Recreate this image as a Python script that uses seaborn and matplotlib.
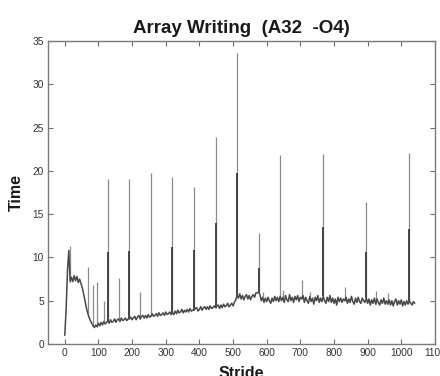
import numpy as np
import pandas as pd
import matplotlib
matplotlib.use("Agg")
import matplotlib.pyplot as plt
import seaborn as sns

# ── Data ──────────────────────────────────────────────────────
# base timing curve, one value every 4 strides, 0 .. 1040
stride = list(range(0, 1041, 4))
time = [
    1.0, 4.0, 8.5, 10.8, 7.2, 7.7, 7.2, 7.9, 7.3, 7.8, 7.1, 7.5, 7.0, 6.5, 5.8, 5.0,      # 0..60
    4.2, 3.6, 3.1, 2.7, 2.4, 2.1, 1.9, 2.2, 2.0, 2.4, 2.1, 2.5, 2.2, 2.6, 2.3, 2.5,      # 64..124
    2.7, 2.4, 2.8, 2.5, 2.6, 2.9, 2.5, 2.8, 2.9, 2.6, 3.0, 2.7, 2.8, 3.0, 2.7, 2.9,      # 128..188
    2.9, 3.1, 2.8, 3.0, 3.2, 2.8, 3.1, 3.3, 2.9, 3.2, 3.3, 3.0, 3.3, 3.0, 3.4, 3.1,      # 192..252
    3.2, 3.5, 3.2, 3.3, 3.5, 3.2, 3.6, 3.3, 3.4, 3.6, 3.3, 3.7, 3.4, 3.5, 3.7, 3.4,      # 256..316
    3.6, 3.4, 3.8, 3.5, 3.9, 3.6, 3.7, 4.0, 3.6, 3.9, 3.7, 4.0, 3.7, 4.1, 3.8, 3.9,      # 320..380
    3.9, 4.1, 4.2, 3.8, 4.0, 4.3, 3.9, 4.2, 4.3, 4.0, 4.3, 4.0, 4.4, 4.1, 4.2, 4.4,      # 384..444
    4.2, 4.4, 4.5, 4.1, 4.5, 4.2, 4.6, 4.3, 4.4, 4.7, 4.3, 4.5, 4.7, 4.4, 4.8, 5.1,      # 448..508
    5.6, 5.3, 5.8, 5.2, 5.6, 5.1, 5.5, 5.7, 5.2, 5.6, 5.1, 5.5, 5.7, 5.4, 5.9, 5.9,      # 512..572
    6.0, 5.7, 5.0, 5.4, 4.8, 5.3, 4.9, 5.4, 5.0, 4.7, 5.3, 4.9, 5.5, 5.0, 5.4, 4.9,      # 576..636
    5.5, 5.0, 5.4, 4.8, 5.6, 5.1, 4.9, 5.7, 5.0, 5.4, 4.8, 5.5, 5.1, 5.6, 4.9, 5.4,      # 640..700
    5.2, 5.6, 4.8, 5.4, 5.0, 4.7, 5.5, 4.9, 5.3, 4.6, 5.4, 5.0, 5.6, 4.8, 5.3, 4.9,      # 704..764
    5.5, 5.0, 4.7, 5.4, 4.9, 5.6, 4.8, 5.3, 4.7, 5.2, 4.5, 5.4, 4.9, 5.3, 4.8, 5.2,      # 768..828
    5.0, 5.4, 4.7, 5.2, 4.8, 5.5, 4.9, 4.6, 5.3, 4.8, 5.4, 4.9, 4.7, 5.3, 5.0, 4.8,      # 832..892
    5.3, 4.7, 5.2, 4.5, 5.1, 4.7, 5.3, 4.6, 5.2, 4.8, 4.5, 5.1, 4.7, 5.3, 4.6, 5.0,      # 896..956
    4.6, 5.1, 4.5, 5.0, 4.4, 4.9, 5.2, 4.5, 5.0, 4.6, 5.1, 4.4, 4.9, 4.5, 5.0, 4.6,      # 960..1020
    5.0, 4.7, 4.5, 4.9, 4.7,                                                              # 1024..1040
]

# large spikes at multiples of 64: dense (dark) part and full (light) height
spike_x    = [128, 192, 256, 320, 384, 448, 512, 576, 640, 768, 896, 1024]
spike_dark = [10.6, 10.7, None, 11.2, 10.8, 14.0, 19.7, 8.8, None, 13.5, 10.6, 13.3]
spike_top  = [19.1, 19.0, 19.7, 19.3, 18.1, 23.9, 33.6, 12.8, 21.8, 22.0, 16.4, 22.1]

# small spikes
small_x   = [16, 68, 84, 96, 116, 160, 224, 588, 648, 704, 728, 832, 924, 960]
small_top = [11.3, 8.9, 6.8, 7.2, 5.0, 7.6, 6.0, 6.0, 6.2, 7.4, 6.0, 6.6, 6.1, 5.9]

x_ticks = list(range(0, 1101, 100))
y_ticks = list(range(0, 36, 5))

# ── Plot ──────────────────────────────────────────────────────
sns.set_style("white")
plt.rcParams["font.family"] = ["Liberation Sans", "DejaVu Sans"]

fig = plt.figure(figsize=(4.4, 3.76), dpi=100)
ax = fig.add_axes([0.109, 0.0851, 0.8795, 0.806])

df = pd.DataFrame({"Stride": stride, "Time": time})
base = dict(zip(stride, time))

light = "#8c8c8c"
dark = "#454545"

ax.vlines(small_x, [base[s] for s in small_x], small_top, color=light, linewidth=0.9, zorder=2)
ax.vlines(spike_x, [base[s] for s in spike_x], spike_top, color=light, linewidth=0.9, zorder=2)
dk = [(s, d) for s, d in zip(spike_x, spike_dark) if d is not None]
ax.vlines([s for s, _ in dk], [base[s] for s, _ in dk], [d for _, d in dk],
          color=dark, linewidth=1.4, zorder=3)

sns.lineplot(data=df, x="Stride", y="Time", color="#484848", linewidth=1.1,
             ax=ax, zorder=4)

ax.set_xlim(-50, 1100)
ax.set_ylim(0, 35)
ax.set_xticks(x_ticks)
ax.set_yticks(y_ticks)
ax.tick_params(direction="in", length=3.5, width=0.8, colors="#6e6e6e",
               labelcolor="#333333", labelsize=7.3, top=True, right=True,
               bottom=True, left=True, pad=3)
for sp in ax.spines.values():
    sp.set_color("#7a7a7a")
    sp.set_linewidth(1.0)

ax.set_title("Array Writing  (A32  -O4)", fontsize=13.5, fontweight="bold",
             color="#1a1a1a", pad=6)
ax.set_xlabel("Stride", fontsize=11.5, fontweight="bold", color="#1a1a1a")
ax.set_ylabel("Time", fontsize=11.5, fontweight="bold", color="#1a1a1a")
ax.xaxis.set_label_coords(0.5, -0.072)
ax.yaxis.set_label_coords(-0.062, 0.5)

fig.savefig("out.png", dpi=100)
plt.close(fig)
